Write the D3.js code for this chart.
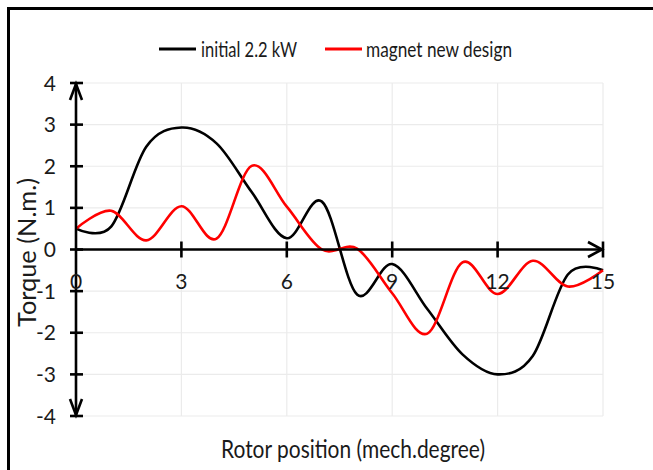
<!DOCTYPE html>
<html>
<head>
<meta charset="utf-8">
<script src="https://cdn.jsdelivr.net/npm/d3@7"></script>
<style>
  html, body { margin: 0; padding: 0; background: #ffffff; }
  svg { display: block; }
  text { font-family: Lato, "Open Sans", "Liberation Sans", sans-serif; fill: #1a1a1a; }
</style>
</head>
<body>
<svg id="chart" width="653" height="470"></svg>
<script>
// ---- data ----
const positions = [0, 1, 2, 3, 4, 5, 6, 7, 8, 9, 10, 11, 12, 13, 14, 15];
const initialTorque = [0.5, 0.55, 2.47, 2.93, 2.55, 1.38, 0.27, 1.15, -1.08, -0.35, -1.43, -2.52, -3.0, -2.56, -0.6, -0.5];
const newDesignTorque = [0.5, 0.93, 0.22, 1.04, 0.26, 2.01, 1.03, 0.0, 0.02, -1.05, -2.02, -0.31, -1.07, -0.27, -0.89, -0.5];
const seriesNames = ["initial 2.2 kW", "magnet new design"];
const seriesColors = ["#000000", "#ff0000"];
const xTicks = [0, 3, 6, 9, 12, 15];
const yTicks = [-4, -3, -2, -1, 0, 1, 2, 3, 4];
const xTitle = "Rotor position (mech.degree)";
const yTitle = "Torque (N.m.)";

const svg = d3.select("#chart");
const W = 653, H = 470;
svg.append("rect").attr("width", W).attr("height", H).attr("fill", "#ffffff");

const x = d3.scaleLinear().domain([0, 15]).range([76, 603]);
const y = d3.scaleLinear().domain([-4, 4]).range([416, 83]);

// outer frame (top + left)
svg.append("path")
  .attr("d", `M8.5,${H} V8.5 H${W}`)
  .attr("fill", "none").attr("stroke", "#000").attr("stroke-width", 3);

// gridlines
const grid = svg.append("g");
grid.selectAll("line.h").data(yTicks).join("line")
  .attr("x1", x(0)).attr("x2", x(15))
  .attr("y1", d => y(d)).attr("y2", d => y(d))
  .attr("stroke", "#ebebeb").attr("stroke-width", 1.2);
grid.selectAll("line.v").data(xTicks.filter(d => d > 0)).join("line")
  .attr("x1", d => x(d)).attr("x2", d => x(d))
  .attr("y1", y(4)).attr("y2", y(-4))
  .attr("stroke", "#ebebeb").attr("stroke-width", 1.2);

// series lines
const line = d3.line()
  .x((d, i) => x(positions[i]))
  .y(d => y(d))
  .curve(d3.curveCardinal.tension(0));
[initialTorque, newDesignTorque].forEach((vals, k) => {
  svg.append("path")
    .datum(vals)
    .attr("d", line)
    .attr("fill", "none")
    .attr("stroke", seriesColors[k])
    .attr("stroke-width", 2.6)
    .attr("stroke-linejoin", "round");
});

// axes
const ax = svg.append("g").attr("stroke", "#000").attr("fill", "none").attr("stroke-width", 2.6);
ax.append("line").attr("x1", x(0)).attr("x2", x(0)).attr("y1", y(4)).attr("y2", y(-4));
ax.selectAll("line.yt").data(yTicks).join("line")
  .attr("x1", x(0) - 6).attr("x2", x(0) + 7)
  .attr("y1", d => y(d)).attr("y2", d => y(d));
ax.append("path").attr("d", `M${x(0) - 6},${y(4) + 17} L${x(0)},${y(4) + 1} L${x(0) + 6},${y(4) + 17}`);
ax.append("path").attr("d", `M${x(0) - 6},${y(-4) - 17} L${x(0)},${y(-4) - 1} L${x(0) + 6},${y(-4) - 17}`);
ax.append("line").attr("x1", x(0)).attr("x2", x(15)).attr("y1", y(0)).attr("y2", y(0));
ax.selectAll("line.xt").data(xTicks.filter(d => d > 0)).join("line")
  .attr("x1", d => x(d)).attr("x2", d => x(d))
  .attr("y1", y(0) - 8).attr("y2", y(0) + 8);
ax.append("path").attr("d", `M${x(15) - 15},${y(0) - 7.5} L${x(15) - 1},${y(0)} L${x(15) - 15},${y(0) + 7.5}`);

// tick labels
svg.selectAll("text.yl").data(yTicks).join("text")
  .attr("x", 56).attr("y", d => y(d) + 7.5)
  .attr("text-anchor", "end")
  .attr("font-size", 21)
  .text(d => d);
svg.selectAll("text.xl").data(xTicks).join("text")
  .attr("x", d => x(d)).attr("y", 289)
  .attr("text-anchor", "middle")
  .attr("font-size", 21)
  .text(d => d);

// axis titles
svg.append("text")
  .attr("x", 221).attr("y", 458)
  .attr("font-size", 24.5)
  .attr("textLength", 264).attr("lengthAdjust", "spacingAndGlyphs")
  .text(xTitle);
svg.append("text")
  .attr("transform", "translate(36,327) rotate(-90)")
  .attr("x", 0).attr("y", 0)
  .attr("font-size", 24.5)
  .attr("textLength", 149).attr("lengthAdjust", "spacingAndGlyphs")
  .text(yTitle);

// legend
const legendItems = [
  { name: seriesNames[0], color: seriesColors[0], lx: 159, tx: 201, tw: 96 },
  { name: seriesNames[1], color: seriesColors[1], lx: 325, tx: 366, tw: 146 }
];
legendItems.forEach(it => {
  svg.append("line")
    .attr("x1", it.lx).attr("x2", it.lx + 37)
    .attr("y1", 49).attr("y2", 49)
    .attr("stroke", it.color).attr("stroke-width", 3.2);
  svg.append("text")
    .attr("x", it.tx).attr("y", 56.7)
    .attr("font-size", 22)
    .attr("textLength", it.tw).attr("lengthAdjust", "spacingAndGlyphs")
    .text(it.name);
});
</script>
</body>
</html>
